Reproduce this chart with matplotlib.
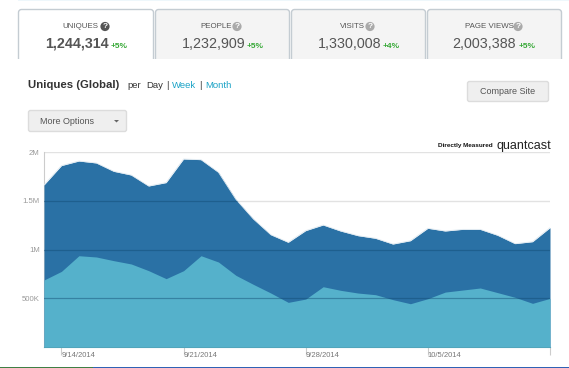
import datetime as dt
import matplotlib
matplotlib.use("Agg")
import matplotlib.pyplot as plt
from matplotlib.patches import FancyBboxPatch, Rectangle, Polygon, Circle

plt.rcParams['font.family'] = ['Liberation Sans', 'DejaVu Sans']

start = dt.date(2014, 9, 13)
uniques_top = [1664000, 1863000, 1910000, 1890000, 1804000, 1766000, 1653000, 1688000, 1931000, 1924000,
               1794000, 1516000, 1314000, 1152000, 1074000, 1194000, 1252000, 1190000, 1142000, 1115000,
               1056000, 1090000, 1218000, 1190000, 1207000, 1207000, 1146000, 1060000, 1080000, 1224000]
uniques_low = [686000, 775000, 936000, 923000, 885000, 851000, 782000, 700000, 782000, 936000,
               871000, 734000, 641000, 552000, 456000, 490000, 617000, 580000, 552000, 535000,
               484000, 442000, 494000, 562000, 583000, 604000, 556000, 508000, 446000, 497000]
days = [start + dt.timedelta(days=i) for i in range(len(uniques_top))]

y_ticks = [500000, 1000000, 1500000, 2000000]
y_labels = ['500K', '1M', '1.5M', '2M']
x_ticks = [dt.date(2014, 9, 14), dt.date(2014, 9, 21), dt.date(2014, 9, 28), dt.date(2014, 10, 5), dt.date(2014, 10, 12)]
x_labels = ['9/14/2014', '9/21/2014', '9/28/2014', '10/5/2014', '']

tab_names = ['UNIQUES', 'PEOPLE', 'VISITS', 'PAGE VIEWS']
tab_values = ['1,244,314', '1,232,909', '1,330,008', '2,003,388']
tab_changes = ['+5%', '+5%', '+4%', '+5%']

W, H = 569, 368
fig = plt.figure(figsize=(W / 100, H / 100), dpi=100, facecolor='white')

# page furniture drawn in pixel coordinates
page = fig.add_axes([0, 0, 1, 1])
page.set_xlim(0, W)
page.set_ylim(H, 0)
page.axis('off')

page.add_patch(Rectangle((18, 0), 551, 1, fc='#eef7fb', ec='none'))
page.add_patch(Rectangle((0, 367), 93, 1, fc='#3f7f45', ec='none'))
page.add_patch(Rectangle((93, 367), 476, 1, fc='#2f62b5', ec='none'))

tab_left = [18, 155, 291, 427]
tab_right = [154, 290, 426, 562]
name_x = [80, 216, 352, 489]
help_x = [105, 237, 370, 518]
value_x = [76.5, 213.5, 349.5, 484.5]
change_x = [119.5, 255.5, 391.5, 527.5]
for i in range(4):
    fc = 'white' if i == 0 else '#f4f4f4'
    clip = Rectangle((0, 0), W, 59, transform=page.transData)
    box = FancyBboxPatch((tab_left[i] + .5, 9.5), tab_right[i] - tab_left[i] - 1, 70,
                         boxstyle='round,pad=0,rounding_size=3', fc=fc, ec='#c4ccd2', lw=1)
    page.add_patch(box)
    box.set_clip_path(clip)
    page.text(name_x[i], 27, tab_names[i], fontsize=5.7, color='#555555', ha='center', va='center')
    page.add_patch(Circle((help_x[i], 26.5), 4.6, fc='#555555' if i == 0 else '#aaaaaa', ec='none'))
    page.text(help_x[i], 26.7, '?', fontsize=6, color='white', weight='bold', ha='center', va='center')
    page.text(value_x[i], 44, tab_values[i], fontsize=10.3, color='#555555', ha='center', va='center',
              weight='bold' if i == 0 else 'normal')
    page.text(change_x[i], 46, tab_changes[i], fontsize=6, color='#35a835', ha='center', va='center',
              weight='bold')

page.text(28, 85, 'Uniques (Global)', fontsize=8.2, weight='bold', color='#333333', va='center')
page.text(127, 86, 'per', fontsize=6.8, color='#333333', va='center')
page.text(146, 86, 'Day', fontsize=6.8, color='#333333', va='center')
page.text(166, 86, '|', fontsize=6.8, color='#333333', va='center')
page.text(172, 86, 'Week', fontsize=6.8, color='#1ba3c6', va='center')
page.text(199, 86, '|', fontsize=6.8, color='#333333', va='center')
page.text(205, 86, 'Month', fontsize=6.8, color='#1ba3c6', va='center')

for x0, y0, w, h in [(28.5, 110.5, 98, 21), (467.5, 81.5, 81, 20)]:
    page.add_patch(FancyBboxPatch((x0, y0), w, h, boxstyle='round,pad=0,rounding_size=2',
                                  fc='#efefef', ec='#dcdcdc', lw=1))
page.text(40, 121, 'More Options', fontsize=6.5, color='#555555', va='center')
page.add_patch(Polygon([[114, 120], [119, 120], [116.5, 122.5]], fc='#666666', ec='none'))
page.text(507.5, 92, 'Compare Site', fontsize=6.5, color='#555555', ha='center', va='center')

page.text(493, 146, 'Directly Measured', fontsize=4.6, weight='bold', color='#111111', ha='right', va='center')
page.text(551, 146, 'quantcast', fontsize=9, color='#222222', ha='right', va='center')

# the chart itself
ax = fig.add_axes([44 / W, 1 - 346.7 / H, (550 - 44) / W, (346.7 - 152.3) / H])
ax.patch.set_alpha(0)
top_fill = ax.fill_between(days, uniques_top, color='#2a71a5', lw=0, zorder=2)
ax.plot(days, uniques_top, color='#dfe9f0', lw=0.6, zorder=2)
ax.fill_between(days, uniques_low, color='#55b1cb', lw=0, zorder=3)
ax.set_xlim(days[0], days[-1])
ax.set_ylim(0, 2000000)

ax.set_yticks(y_ticks)
ax.set_yticklabels(y_labels)
ax.set_xticks(x_ticks)
ax.set_xticklabels(x_labels, ha='left')
ax.tick_params(axis='y', length=0, labelsize=5.6, labelcolor='#999999', pad=3)
ax.tick_params(axis='x', length=6, width=0.8, color='#cccccc', labelsize=5.5, labelcolor='#777777', pad=-2)

# gridlines are pale on the white and only darken the areas they cross
for v in y_ticks:
    ax.axhline(v, color='#e2e2e2', lw=1, zorder=1)
    dark = ax.axhline(v, color='#114a72', lw=0.9, alpha=0.45, zorder=4)
    dark.set_clip_path(top_fill.get_paths()[0], transform=ax.transData)

for side in ['top', 'right']:
    ax.spines[side].set_visible(False)
ax.spines['left'].set_color('#cccccc')
ax.spines['bottom'].set_color('#4fa3b8')
ax.spines['left'].set_zorder(1)

fig.savefig('out.png', dpi=100)
